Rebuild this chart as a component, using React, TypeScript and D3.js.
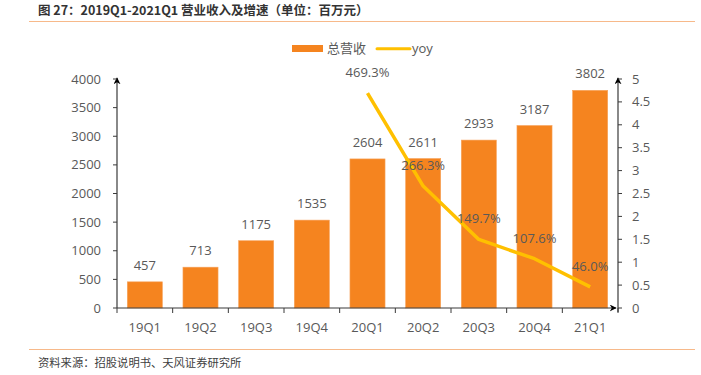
import React from "react";
import * as d3 from "d3";

const categories = ["19Q1", "19Q2", "19Q3", "19Q4", "20Q1", "20Q2", "20Q3", "20Q4", "21Q1"];
const revenue = [457, 713, 1175, 1535, 2604, 2611, 2933, 3187, 3802];
const yoyCats = ["20Q1", "20Q2", "20Q3", "20Q4", "21Q1"];
const yoy = [4.693, 2.663, 1.497, 1.076, 0.46];
const yoyLabels = ["469.3%", "266.3%", "149.7%", "107.6%", "46.0%"];
const leftTicks = [0, 500, 1000, 1500, 2000, 2500, 3000, 3500, 4000];
const rightTicks = [0, 0.5, 1, 1.5, 2, 2.5, 3, 3.5, 4, 4.5, 5];

const W = 701, H = 375;
const L = 117, R = 618, T = 79, B = 308;
const font = "'Open Sans', 'Noto Sans CJK SC', sans-serif";
const cjk = "'Noto Sans CJK SC', sans-serif";
const barColor = "#F5841F";
const lineColor = "#FFC000";
const textColor = "#595959";
const axisColor = "#3a3a3a";

export default function App() {
  const x = d3.scaleBand().domain(categories).range([L, R]).paddingInner(0.37).paddingOuter(0.185);
  const xb = d3.scaleBand().domain(categories).range([L, R]);
  const yL = d3.scaleLinear().domain([0, 4000]).range([B, T]);
  const yR = d3.scaleLinear().domain([0, 5]).range([B, T]);
  const line = d3.line<number>()
    .x((_, i) => (xb(yoyCats[i]) as number) + xb.bandwidth() / 2)
    .y((d) => yR(d));

  return (
    <div style={{ position: "absolute", left: 0, top: 0 }}>
      <svg width={W} height={H} style={{ display: "block", background: "#fff" }}>
        <defs>
          <marker id="arr" viewBox="0 0 10 10" refX="9" refY="5" markerWidth="7" markerHeight="7" orient="auto-start-reverse" markerUnits="userSpaceOnUse">
            <path d="M0,0 L10,5 L0,10 L3,5 z" fill="#000" />
          </marker>
        </defs>
        {/* title */}
        <text x={38} y={15} fontFamily={cjk} fontSize={12.5} fontWeight={600} fill="#333">
          图 27：2019Q1-2021Q1 营业收入及增速（单位：百万元）
        </text>
        <line x1={29} x2={695} y1={21.5} y2={21.5} stroke="#F7B98A" strokeWidth={1.2} />

        {/* legend */}
        <rect x={292} y={45} width={31} height={7} fill={barColor} />
        <text x={327} y={53} fontFamily={cjk} fontSize={13} fill={textColor}>总营收</text>
        <line x1={377} x2={410} y1={48.8} y2={48.8} stroke={lineColor} strokeWidth={3} strokeLinecap="round" />
        <text x={412} y={53} fontFamily={font} fontSize={13} fill={textColor}>yoy</text>

        {/* bars */}
        {categories.map((c, i) => (
          <g key={c}>
            <rect x={x(c)} y={yL(revenue[i])} width={x.bandwidth()} height={B - yL(revenue[i])} fill={barColor} stroke="#F7A35C" strokeWidth={0.6} />
            <text x={(x(c) as number) + x.bandwidth() / 2} y={yL(revenue[i]) - 12} textAnchor="middle" fontFamily={font} fontSize={13} fill={textColor}>{revenue[i]}</text>
          </g>
        ))}

        {/* left axis */}
        <line x1={L} x2={L} y1={B} y2={T - 1} stroke={axisColor} strokeWidth={1.2} markerEnd="url(#arr)" />
        {leftTicks.map((t) => (
          <g key={"l" + t}>
            <line x1={L - 4} x2={L} y1={yL(t)} y2={yL(t)} stroke={axisColor} strokeWidth={1} />
            <text x={101} y={yL(t) + 4.5} textAnchor="end" fontFamily={font} fontSize={13} fill={textColor}>{t}</text>
          </g>
        ))}

        {/* right axis */}
        <line x1={R} x2={R} y1={B + 4} y2={T - 1} stroke={axisColor} strokeWidth={1.2} markerEnd="url(#arr)" />
        {rightTicks.map((t) => (
          <g key={"r" + t}>
            <line x1={R} x2={R + 4} y1={yR(t)} y2={yR(t)} stroke={axisColor} strokeWidth={1} />
            <text x={632} y={yR(t) + 4.5} textAnchor="start" fontFamily={font} fontSize={13} fill={textColor}>{t}</text>
          </g>
        ))}

        {/* x axis */}
        <line x1={L} x2={R - 2} y1={B} y2={B} stroke={axisColor} strokeWidth={1.2} markerEnd="url(#arr)" />
        {categories.map((c) => (
          <line key={"t" + c} x1={xb(c)} x2={xb(c)} y1={B} y2={B + 5} stroke={axisColor} strokeWidth={1} />
        ))}
        <line x1={R} x2={R} y1={B} y2={B + 5} stroke={axisColor} strokeWidth={1} />
        {categories.map((c) => (
          <text key={"x" + c} x={(xb(c) as number) + xb.bandwidth() / 2} y={332} textAnchor="middle" fontFamily={font} fontSize={13} fill={textColor}>{c}</text>
        ))}

        {/* yoy line */}
        <path d={line(yoy) || ""} fill="none" stroke={lineColor} strokeWidth={3.5} strokeLinejoin="round" />
        {yoy.map((v, i) => (
          <text key={"y" + i} x={(xb(yoyCats[i]) as number) + xb.bandwidth() / 2} y={yR(v) - 16} textAnchor="middle" fontFamily={font} fontSize={13} fill={textColor}>{yoyLabels[i]}</text>
        ))}

        {/* footer */}
        <line x1={29} x2={695} y1={349.5} y2={349.5} stroke="#F7B98A" strokeWidth={1.2} />
        <text x={38} y={367} fontFamily={cjk} fontSize={11.3} fill="#404040">资料来源：招股说明书、天风证券研究所</text>
      </svg>
    </div>
  );
}
